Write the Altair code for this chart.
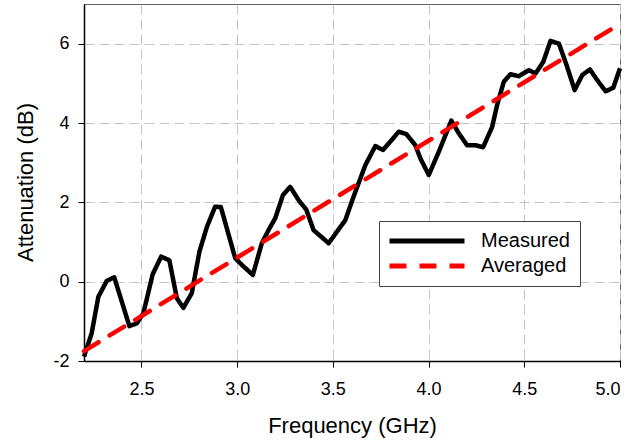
import altair as alt
import pandas as pd

# Measured attenuation
freq_measured = [2.200, 2.240, 2.275, 2.319, 2.358, 2.437, 2.476, 2.510, 2.559, 2.603,
                 2.646, 2.685, 2.719, 2.763, 2.803, 2.842, 2.885, 2.915, 2.990, 3.025,
                 3.082, 3.129, 3.164, 3.199, 3.239, 3.277, 3.326, 3.361, 3.399, 3.478,
                 3.565, 3.608, 3.670, 3.722, 3.762, 3.800, 3.844, 3.884, 3.931, 3.957,
                 4.001, 4.053, 4.119, 4.158, 4.201, 4.245, 4.285, 4.332, 4.358, 4.393,
                 4.428, 4.471, 4.524, 4.559, 4.599, 4.637, 4.681, 4.721, 4.763, 4.803,
                 4.843, 4.881, 4.925, 4.965, 5.000]
att_measured = [-1.89, -1.30, -0.38, 0.02, 0.11, -1.12, -1.05, -0.80, 0.19, 0.63,
                0.54, -0.42, -0.66, -0.29, 0.76, 1.38, 1.89, 1.88, 0.59, 0.42,
                0.17, 0.97, 1.30, 1.60, 2.18, 2.39, 2.02, 1.82, 1.30, 0.97,
                1.55, 2.14, 2.94, 3.42, 3.32, 3.53, 3.78, 3.72, 3.44, 3.11,
                2.69, 3.27, 4.06, 3.74, 3.44, 3.44, 3.39, 3.90, 4.45, 5.04,
                5.23, 5.18, 5.33, 5.25, 5.54, 6.07, 6.00, 5.46, 4.83, 5.21,
                5.35, 5.08, 4.80, 4.89, 5.38]

# Averaged (linear trend)
freq_averaged = [2.2, 5.0]
att_averaged = [-1.75, 6.5]

series_names = ["Measured", "Averaged"]
series_colors = ["#000000", "#ff0000"]
series_dashes = [[1, 0], [17, 13]]
x_ticks = [2.5, 3.0, 3.5, 4.0, 4.5, 5.0]
y_ticks = [-2, 0, 2, 4, 6]

df_m = pd.DataFrame({"freq": freq_measured, "att": att_measured, "series": series_names[0]})
df_a = pd.DataFrame({"freq": freq_averaged, "att": att_averaged, "series": series_names[1]})

legend = alt.Legend(
    title=None, orient="none", legendX=295, legendY=217, direction="vertical",
    fillColor="white", strokeColor="#404040", padding=10,
    symbolType="M-1,0H9", symbolSize=225, symbolStrokeWidth=5, symbolOffset=-2,
    labelOffset=74, rowPadding=5,
    labelFont="Liberation Sans", labelFontSize=20, labelColor="black",
)

x_enc = alt.X(
    "freq:Q",
    scale=alt.Scale(domain=[2.2, 5.0], nice=False, zero=False),
    axis=alt.Axis(values=x_ticks, title="Frequency (GHz)",
                  labelExpr="format(datum.value, '.1f')",
                  labelBaseline="alphabetic", labelPadding=27,
                  titleBaseline="alphabetic", titleY=71),
)
y_enc = alt.Y(
    "att:Q",
    scale=alt.Scale(domain=[-2, 7], nice=False, zero=False),
    axis=alt.Axis(values=y_ticks, title="Attenuation (dB)",
                  labelExpr="'' + datum.value", labelPadding=9,
                  titleBaseline="alphabetic", titleX=-52, titleY=178),
)
color_enc = alt.Color("series:N", scale=alt.Scale(domain=series_names, range=series_colors), legend=legend)
dash_enc = alt.StrokeDash("series:N", scale=alt.Scale(domain=series_names, range=series_dashes), legend=legend)

measured = alt.Chart(df_m).mark_line(strokeWidth=4.5, strokeJoin="round").encode(
    x=x_enc, y=y_enc, color=color_enc, strokeDash=dash_enc
)
averaged = alt.Chart(df_a).mark_line(strokeWidth=4.5, strokeCap="round").encode(
    x=x_enc, y=y_enc, color=color_enc, strokeDash=dash_enc
)

chart = alt.layer(measured, averaged).properties(
    width=536, height=357,
    autosize=alt.AutoSizeParams(type="none"),
    padding={"left": 84, "top": 4, "right": 16, "bottom": 81},
).configure_view(
    stroke="#606060", strokeWidth=1
).configure_axis(
    grid=True, gridColor="#c4c4c4", gridDash=[10, 5], gridWidth=1,
    domainColor="black", domainWidth=1.5, tickColor="black", tickSize=6, tickWidth=1,
    labelFont="Liberation Sans", labelFontSize=18, labelColor="black",
    titleFont="Liberation Sans", titleFontSize=22, titleFontWeight="normal", titleColor="black",
)

chart.save("out.html", embed_options={"renderer": "svg", "actions": False})
